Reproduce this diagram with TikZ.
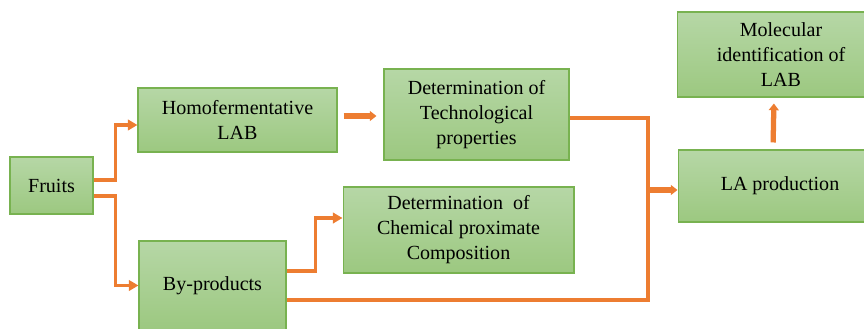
\documentclass[tikz,border=0pt]{standalone}
\usepackage{fontspec}
\setmainfont{Liberation Serif}
\usetikzlibrary{positioning,arrows.meta,calc}
\definecolor{boxtop}{RGB}{182,215,166}
\definecolor{boxbot}{RGB}{156,200,128}
\definecolor{boxline}{RGB}{120,178,80}
\definecolor{flow}{RGB}{237,125,49}
\begin{document}
\begin{tikzpicture}[x=0.02cm, y=0.02cm,
  box/.style={draw=boxline, line width=0.6pt, top color=boxtop, bottom color=boxbot, align=center, inner sep=2pt,
    font=\fontsize{11.4}{14.2}\selectfont},
  link/.style={draw=flow, line width=1.9pt},
  arr/.style={link, -{Triangle[length=5.5pt, width=6pt]}},
  bigarr/.style={draw=flow, line width=3pt, -{Triangle[length=3.8pt, width=5.6pt]}}]
\useasboundingbox (0,0) rectangle (864,328);
\clip (0,0) rectangle (864,328);
\node[box, minimum width=1.66cm, minimum height=1.14cm] (fruits) at (51.5,142.5) {Fruits};
\node[box, minimum width=3.98cm, minimum height=1.28cm] (homo) at (237.5,208) {Homofermentative\\LAB};
\node[box, minimum width=2.94cm, minimum height=1.78cm] (byprod) at (212.5,42.5) {By-products};
\node[box, minimum width=3.70cm, minimum height=1.82cm] (tech) at (476.5,213.5) {Determination of\\Technological\\properties};
\node[box, minimum width=4.62cm, minimum height=1.72cm] (chem) at (458.5,98) {Determination\ \ of\\Chemical proximate\\Composition};
\node[box, minimum width=4.16cm, minimum height=1.70cm] (molec) at (781,273.5) {Molecular\\identification of\\LAB};
\node[box, minimum width=4.08cm, minimum height=1.44cm] (lapro) at (780,142) {LA production};
\coordinate (bus) at (648,138);
\draw[arr] ($(fruits.east)+(0,5.5)$) -- ++(22,0) |- ($(homo.west)+(0,-5)$);
\draw[arr] ($(fruits.east)+(0,-10.5)$) -- ++(22,0) |- (byprod.west);
\draw[arr] ($(byprod.east)+(0,14.5)$) -- ++(29,0) |- ($(chem.west)+(0,12)$);
\draw[link] ($(byprod.east)+(0,-14.5)$) -| (bus) |- ($(tech.east)+(0,-3.5)$);
\draw[bigarr] (bus) -- (bus -| lapro.west);
\draw[bigarr, shorten <=0.12cm, shorten >=0.14cm] ($(homo.east)+(0,4)$) -- ($(tech.west)+(0,-1.5)$);
\draw[bigarr, shorten <=0.14cm, shorten >=0.12cm] ($(lapro.north)+(-7,0)$) -- ($(molec.south)+(-7,0)$);
\end{tikzpicture}
\end{document}
